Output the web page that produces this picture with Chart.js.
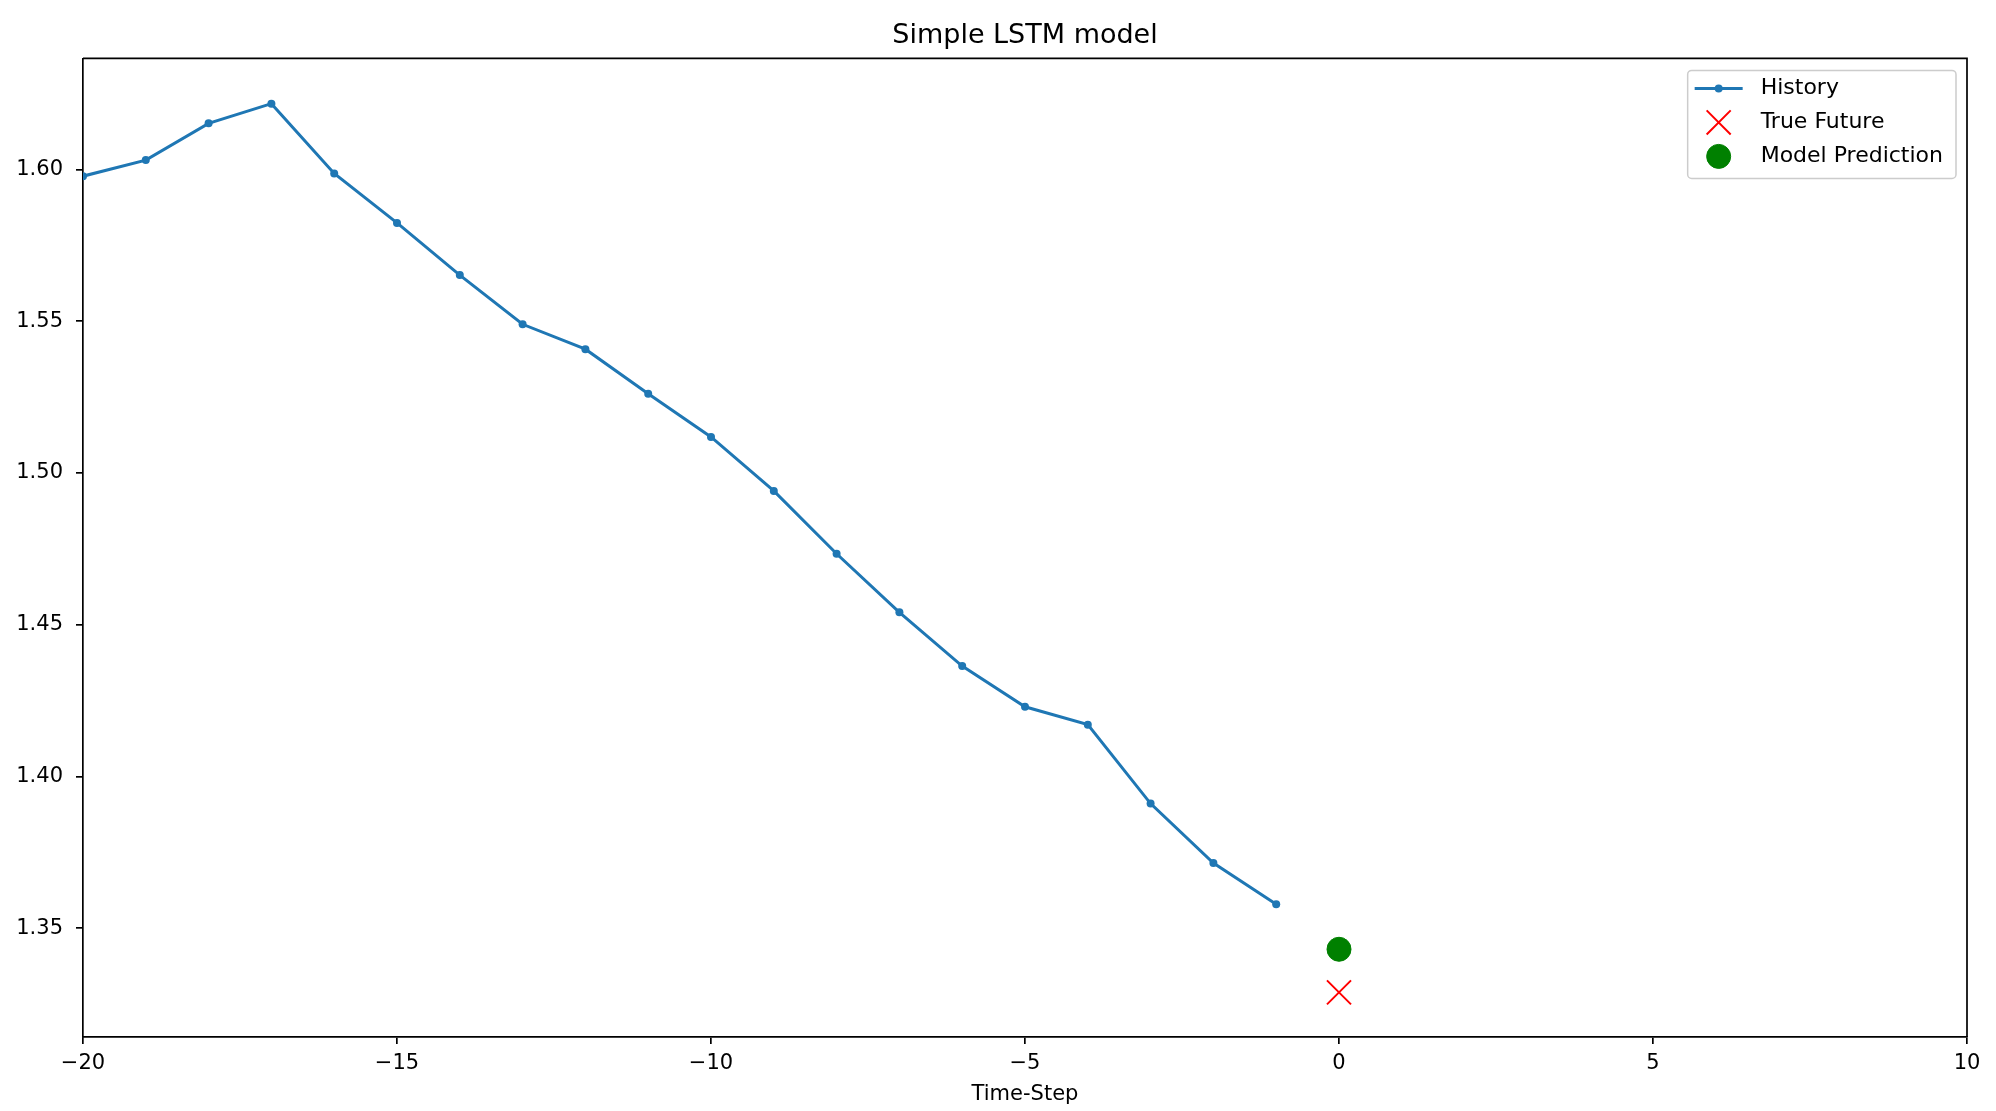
<!DOCTYPE html>
<html>
<head>
<meta charset="utf-8">
<title>Simple LSTM model</title>
<script src="https://cdn.jsdelivr.net/npm/chart.js@4.4.0/dist/chart.umd.min.js"></script>
<style>
  html, body { margin: 0; padding: 0; background: #fff; }
  #wrap { position: relative; width: 1996px; height: 1111px; }
</style>
</head>
<body>
<div id="wrap"><canvas id="lstmChart"></canvas></div>
<script>
// past window the model sees
const historySteps = [-20, -19, -18, -17, -16, -15, -14, -13, -12, -11, -10, -9, -8, -7, -6, -5, -4, -3, -2, -1];
const historyValues = [1.5978, 1.6031, 1.6152, 1.6217, 1.5987, 1.5824, 1.5652, 1.5490, 1.5408, 1.5261,
                       1.5119, 1.4941, 1.4734, 1.4541, 1.4364, 1.4230, 1.4171, 1.3911, 1.3715, 1.3579];

// one step ahead
const futureSteps = [0];
const trueFuture = [1.3289];
const modelPrediction = [1.3431];

// axes
const xTicks = [-20, -15, -10, -5, 0, 5, 10];
const yTicks = [1.35, 1.40, 1.45, 1.50, 1.55, 1.60];
const xRange = [-20, 10];
const yRange = [1.3142, 1.6366];

const toPoints = (xs, ys) => xs.map((x, i) => ({ x: x, y: ys[i] }));
const minusSign = v => String(v).replace('-', '\u2212');

Chart.defaults.font.family = '"DejaVu Sans", sans-serif';
Chart.defaults.color = '#000';

// matplotlib draws a full box round the axes, chart.js only the left/bottom borders
const axesFrame = {
    id: 'axesFrame',
    afterDatasetsDraw(chart) {
        const { ctx, chartArea: a } = chart;
        ctx.save();
        ctx.strokeStyle = '#000';
        ctx.lineWidth = 1.7;
        ctx.beginPath();
        ctx.moveTo(a.left, a.top);
        ctx.lineTo(a.right, a.top);
        ctx.lineTo(a.right, a.bottom);
        ctx.stroke();
        ctx.restore();
    }
};

// legend box in the upper right corner, inside the plot
const insideLegend = {
    id: 'insideLegend',
    afterDatasetsDraw(chart) {
        const { ctx, chartArea } = chart;
        const sets = chart.data.datasets;
        ctx.save();
        ctx.font = '22px "DejaVu Sans"';
        const textW = Math.max(...sets.map(s => ctx.measureText(s.label).width));
        const rowH = 34;
        const boxW = 74 + textW + 12;
        const boxH = 18 + rowH * (sets.length - 1) + 22;
        const right = chartArea.right - 11;
        const top = chartArea.top + 12;
        const left = right - boxW;
        const r = 4;

        ctx.beginPath();
        ctx.moveTo(left + r, top);
        ctx.lineTo(right - r, top);
        ctx.arcTo(right, top, right, top + r, r);
        ctx.lineTo(right, top + boxH - r);
        ctx.arcTo(right, top + boxH, right - r, top + boxH, r);
        ctx.lineTo(left + r, top + boxH);
        ctx.arcTo(left, top + boxH, left, top + boxH - r, r);
        ctx.lineTo(left, top + r);
        ctx.arcTo(left, top, left + r, top, r);
        ctx.closePath();
        ctx.fillStyle = 'rgba(255,255,255,0.8)';
        ctx.fill();
        ctx.strokeStyle = '#cccccc';
        ctx.lineWidth = 1.5;
        ctx.stroke();

        sets.forEach((s, i) => {
            const cy = top + 18 + i * rowH;
            const cx = left + 31;
            if (s.showLine !== false) {
                ctx.strokeStyle = s.borderColor;
                ctx.lineWidth = s.borderWidth;
                ctx.beginPath();
                ctx.moveTo(left + 7, cy);
                ctx.lineTo(left + 55, cy);
                ctx.stroke();
            }
            ctx.fillStyle = s.pointBackgroundColor;
            ctx.strokeStyle = s.pointBorderColor;
            ctx.lineWidth = s.pointBorderWidth;
            Chart.helpers.drawPoint(ctx, {
                pointStyle: s.pointStyle,
                radius: s.pointRadius,
                rotation: 0,
                borderWidth: s.pointBorderWidth
            }, cx, cy);
            ctx.fillStyle = '#000';
            ctx.textBaseline = 'middle';
            ctx.textAlign = 'left';
            ctx.fillText(s.label, left + 73, cy);
        });
        ctx.restore();
    }
};

const ctx = document.getElementById('lstmChart').getContext('2d');
new Chart(ctx, {
    type: 'scatter',
    data: {
        datasets: [
            {
                label: 'History',
                data: toPoints(historySteps, historyValues),
                showLine: true,
                borderColor: '#1f77b4',
                borderWidth: 3,
                pointStyle: 'circle',
                pointRadius: 4,
                pointBackgroundColor: '#1f77b4',
                pointBorderColor: '#1f77b4',
                pointBorderWidth: 0,
                clip: 0
            },
            {
                label: 'True Future',
                data: toPoints(futureSteps, trueFuture),
                showLine: false,
                pointStyle: 'crossRot',
                pointRadius: 17,
                pointBackgroundColor: '#ff0000',
                pointBorderColor: '#ff0000',
                pointBorderWidth: 2
            },
            {
                label: 'Model Prediction',
                data: toPoints(futureSteps, modelPrediction),
                showLine: false,
                pointStyle: 'circle',
                pointRadius: 12,
                pointBackgroundColor: '#008000',
                pointBorderColor: '#008000',
                pointBorderWidth: 1
            }
        ]
    },
    options: {
        responsive: true,
        maintainAspectRatio: false,
        animation: false,
        layout: { padding: { top: 0, right: 29, bottom: 0, left: 0 } },
        plugins: {
            legend: { display: false },
            tooltip: { enabled: false },
            title: {
                display: true,
                text: 'Simple LSTM model',
                fullSize: false,
                color: '#000',
                font: { size: 27, weight: 'normal' },
                padding: { top: 20, bottom: 6 }
            }
        },
        scales: {
            x: {
                type: 'linear',
                min: xRange[0],
                max: xRange[1],
                afterBuildTicks: axis => { axis.ticks = xTicks.map(v => ({ value: v })); },
                afterFit: axis => { axis.height = 74; },
                ticks: {
                    font: { size: 21 },
                    color: '#000',
                    padding: 7,
                    maxRotation: 0,
                    callback: v => minusSign(v)
                },
                grid: { display: true, drawOnChartArea: false, drawTicks: true, tickLength: 7, color: '#000', lineWidth: 1.7 },
                border: { display: true, color: '#000', width: 1.7 },
                title: { display: true, text: 'Time-Step', color: '#000', font: { size: 21 }, padding: { top: 0, bottom: 4 } }
            },
            y: {
                type: 'linear',
                min: yRange[0],
                max: yRange[1],
                afterBuildTicks: axis => { axis.ticks = yTicks.map(v => ({ value: v })); },
                afterFit: axis => { axis.width = 83; },
                ticks: {
                    font: { size: 21 },
                    color: '#000',
                    padding: 13,
                    callback: v => v.toFixed(2)
                },
                grid: { display: true, drawOnChartArea: false, drawTicks: true, tickLength: 7, color: '#000', lineWidth: 1.7 },
                border: { display: true, color: '#000', width: 1.7 }
            }
        }
    },
    plugins: [axesFrame, insideLegend]
});
</script>
</body>
</html>
